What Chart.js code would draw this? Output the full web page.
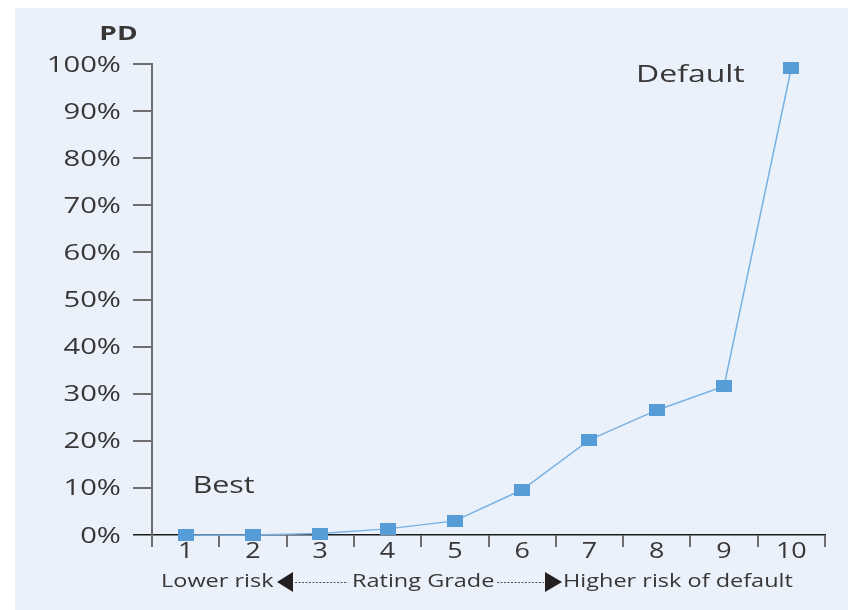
<!DOCTYPE html>
<html>
<head>
<meta charset="utf-8">
<script src="https://cdn.jsdelivr.net/npm/chart.js@4"></script>
<style>
  html, body { margin:0; padding:0; background:#fff; }
  #wrap { width:848px; height:610px; }
</style>
</head>
<body>
<div id="wrap"><canvas id="pdChart" width="848" height="610"></canvas></div>
<script>
const GRADES = ['1','2','3','4','5','6','7','8','9','10'];
const PD_VALUES = [0, 0, 0.3, 1.3, 3.0, 9.6, 20.2, 26.5, 31.6, 99.2];
const Y_TICKS = [0,10,20,30,40,50,60,70,80,90,100];

const FONT = '"Open Sans", "Noto Sans", sans-serif';
const TXT = '#383636';

// the reference text is stretched sideways, so draw it with a horizontal scale
function wideText(ctx, text, x, y, align, font, sx) {
  sx = sx || 1.3;
  ctx.save();
  ctx.font = font;
  ctx.fillStyle = TXT;
  ctx.textBaseline = 'alphabetic';
  ctx.textAlign = 'left';
  const w = ctx.measureText(text).width * sx;
  const left = align === 'right' ? x - w : align === 'center' ? x - w / 2 : x;
  ctx.translate(left, y);
  ctx.scale(sx, 1);
  ctx.fillText(text, 0, 0);
  ctx.restore();
  return w;
}

// stretched square marker
const marker = document.createElement('canvas');
marker.width = 16; marker.height = 12;
(() => { const m = marker.getContext('2d'); m.fillStyle = '#569DD7'; m.fillRect(0, 0, 16, 12); })();

const panel = {
  id: 'panel',
  beforeDraw(chart) {
    const c = chart.ctx;
    c.save();
    c.fillStyle = '#fff';
    c.fillRect(0, 0, chart.width, chart.height);
    c.fillStyle = '#EAF1FA';
    c.fillRect(15, 8, chart.width - 15, chart.height - 8);
    c.restore();
  }
};

const labels = {
  id: 'labels',
  afterDraw(chart) {
    const c = chart.ctx;
    const xs = chart.scales.x, ys = chart.scales.y;

    Y_TICKS.forEach(v => {
      wideText(c, v + '%', 121, ys.getPixelForValue(v) + 7.5, 'right', '21px ' + FONT, 1.39);
    });
    GRADES.forEach((g, i) => {
      wideText(c, g, xs.getPixelForValue(i), 558, 'center', '21px ' + FONT, 1.28);
    });

    wideText(c, 'PD', 118.5, 40, 'center', 'bold 20px ' + FONT, 1.4);
    wideText(c, 'Best', xs.getPixelForValue(0) + 7, ys.getPixelForValue(10) + 5, 'left', '23px ' + FONT, 1.32);
    wideText(c, 'Default', 636, 82, 'left', '23px ' + FONT, 1.39);

    // bottom legend row
    const by = 587, f = '18.5px ' + FONT;
    wideText(c, 'Lower risk', 161, by, 'left', f, 1.27);
    wideText(c, 'Rating Grade', 352, by, 'left', f, 1.27);
    wideText(c, 'Higher risk of default', 563, by, 'left', f, 1.27);

    c.save();
    c.fillStyle = '#231f20';
    c.beginPath(); c.moveTo(277, 582); c.lineTo(293, 572); c.lineTo(293, 592); c.closePath(); c.fill();
    c.beginPath(); c.moveTo(562, 582); c.lineTo(545, 572); c.lineTo(545, 592); c.closePath(); c.fill();
    c.strokeStyle = '#555';
    c.lineWidth = 1;
    c.setLineDash([2, 1.5]);
    c.beginPath();
    c.moveTo(295, 582.5); c.lineTo(348, 582.5);
    c.moveTo(497, 582.5); c.lineTo(544, 582.5);
    c.stroke();
    c.restore();
  }
};

new Chart(document.getElementById('pdChart'), {
  type: 'line',
  data: {
    labels: GRADES,
    datasets: [{
      label: 'PD',
      data: PD_VALUES,
      borderColor: '#78B1E3',
      borderWidth: 1.5,
      pointStyle: marker,
      pointRadius: 8,
      tension: 0,
      fill: false,
      clip: false
    }]
  },
  options: {
    responsive: false,
    animation: false,
    events: [],
    layout: { padding: { left: 15, top: 64, right: 23, bottom: 0 } },
    plugins: { legend: { display: false }, tooltip: { enabled: false } },
    scales: {
      x: {
        type: 'category',
        offset: true,
        grid: { offset: true, drawOnChartArea: false, tickLength: 12, color: '#6e6e6e', lineWidth: 2 },
        border: { color: '#1a1a1a', width: 1.5 },
        ticks: { display: false },
        afterFit: s => { s.height = 75; }
      },
      y: {
        min: 0, max: 100,
        ticks: { display: false, stepSize: 10 },
        grid: {
          drawOnChartArea: false, tickLength: 19,
          color: c => c.tick && c.tick.value === 0 ? '#1a1a1a' : '#6e6e6e',
          lineWidth: c => c.tick && c.tick.value === 0 ? 1.5 : 2
        },
        border: { color: '#6e6e6e', width: 2 },
        afterFit: s => { s.width = 137; }
      }
    }
  },
  plugins: [panel, labels]
});
</script>
</body>
</html>
